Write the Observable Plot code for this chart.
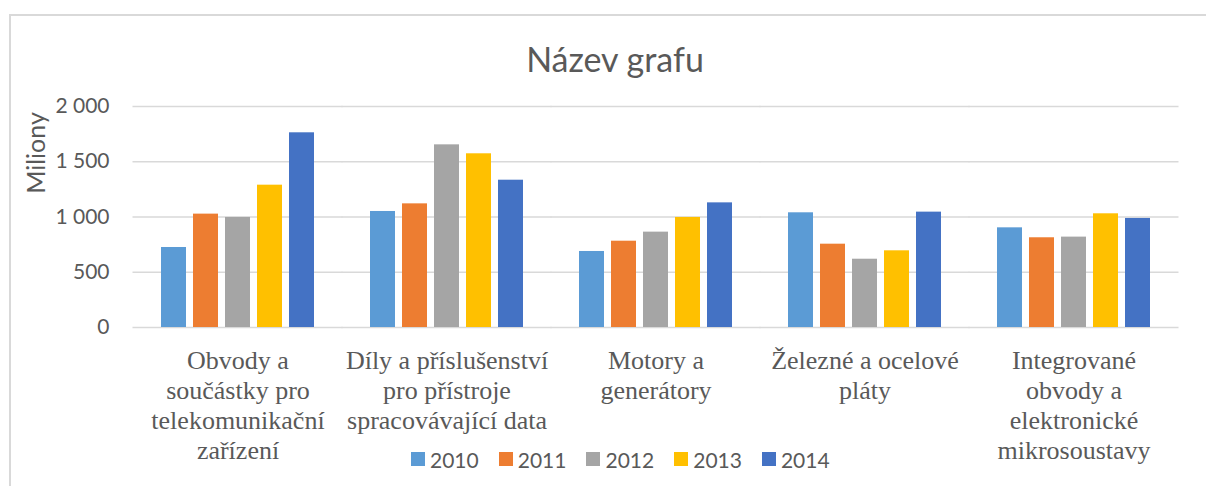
<!DOCTYPE html>
<html><head><meta charset="utf-8">
<script src="https://cdn.jsdelivr.net/npm/d3@7"></script>
<script src="https://cdn.jsdelivr.net/npm/@observablehq/plot@0.6"></script>
<style>
html,body{margin:0;padding:0;background:#fff;}
#chart{position:relative;width:1206px;height:486px;overflow:hidden;font-family:Lato,sans-serif;color:#595959;}
#frame{position:absolute;left:9px;top:14px;right:-10px;bottom:-10px;border-top:2px solid #d9d9d9;border-left:2px solid #d9d9d9;}
#plot{position:absolute;left:0;top:0;}
#title{position:absolute;left:0;width:1230px;text-align:center;top:42px;font-size:34px;line-height:34px;white-space:nowrap;}
#ylabel{position:absolute;left:35px;top:153px;transform:translate(-50%,-50%) rotate(-90deg);font-size:25px;line-height:25px;white-space:nowrap;}
#legend{position:absolute;left:411px;top:447px;height:24px;display:flex;align-items:center;font-size:21px;}
.item{display:flex;align-items:center;margin-right:20px;}
.sw{width:14px;height:14px;margin-right:5px;}
</style></head>
<body>
<div id="chart">
  <div id="frame"></div>
  <div id="plot"></div>
  <div id="title">Název grafu</div>
  <div id="ylabel">Miliony</div>
  <div id="legend"></div>
</div>
<script>
const categories = [
  "Obvody a\nsoučástky pro\ntelekomunikační\nzařízení",
  "Díly a příslušenství\npro přístroje\nspracovávající data",
  "Motory a\ngenerátory",
  "Železné a ocelové\npláty",
  "Integrované\nobvody a\nelektronické\nmikrosoustavy"
];
const years = ["2010", "2011", "2012", "2013", "2014"];
const v2010 = [724, 1050, 688, 1038, 902];
const v2011 = [1026, 1119, 781, 754, 812];
const v2012 = [996, 1653, 863, 618, 818];
const v2013 = [1288, 1572, 996, 694, 1029];
const v2014 = [1762, 1333, 1128, 1044, 987];
const seriesColors = ["#5B9BD5", "#ED7D31", "#A5A5A5", "#FFC000", "#4472C4"];
const yTicks = [0, 500, 1000, 1500, 2000];

const series = [v2010, v2011, v2012, v2013, v2014];
const rows = [];
categories.forEach((c, i) => years.forEach((y, j) => rows.push({category: c, year: y, value: series[j][i]})));

const fmt = d3.formatLocale({decimal: ",", thousands: " ", grouping: [3], currency: ["", ""]}).format(",");

const chart = Plot.plot({
  width: 1206,
  height: 486,
  marginLeft: 133,
  marginRight: 28,
  marginTop: 106,
  marginBottom: 159,
  style: {fontFamily: "Lato, sans-serif", color: "#595959", background: "transparent", overflow: "visible"},
  fx: {domain: categories, paddingInner: 0.268, paddingOuter: 0.134, axis: null, label: null},
  x: {domain: years, paddingInner: 0.22, paddingOuter: 0, axis: null},
  y: {domain: [0, 2000], axis: null},
  color: {domain: years, range: seriesColors},
  marks: [
    Plot.ruleY(yTicks, {y: d => d, stroke: "#d9d9d9", strokeWidth: 1.5, insetLeft: -28.5, insetRight: -28.5}),
    Plot.barY(rows, {fx: "category", x: "year", y: "value", fill: "year"}),
    Plot.axisY({ticks: yTicks, tickFormat: fmt, tickSize: 0, tickPadding: 52, fontSize: 21, label: null}),
    Plot.text(categories, {fx: d => d, text: d => d, frameAnchor: "bottom", lineAnchor: "top", dy: 19.5, lineHeight: 1.166, fontSize: 26, fontFamily: "Liberation Serif, serif", fill: "#595959"})
  ]
});
document.getElementById("plot").appendChild(chart);

const legend = document.getElementById("legend");
years.forEach((y, i) => {
  const it = document.createElement("div");
  it.className = "item";
  const sw = document.createElement("div");
  sw.className = "sw";
  sw.style.background = seriesColors[i];
  const t = document.createElement("span");
  t.textContent = y;
  it.appendChild(sw); it.appendChild(t);
  legend.appendChild(it);
});
</script>
</body></html>
